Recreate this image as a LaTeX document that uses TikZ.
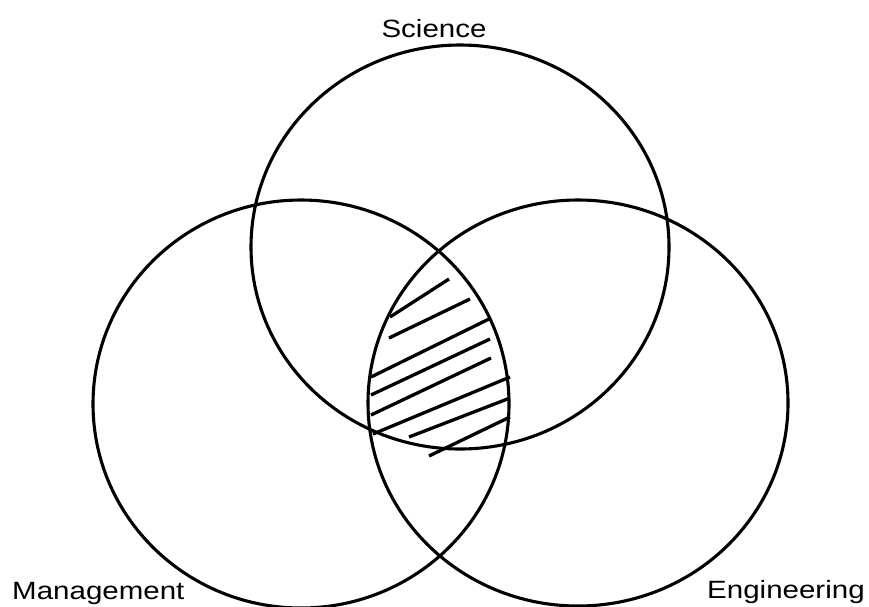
\documentclass[tikz,border=0pt]{standalone}
\usepackage{fontspec}
\setmainfont{Liberation Sans}
\begin{document}
\begin{tikzpicture}[x=1pt,y=-1pt,
  ring/.style={draw=black,line width=3.1pt},
  hatch/.style={draw=black,line width=3.3pt},
  lbl/.style={inner sep=0pt,xscale=1.18,font=\fontsize{25}{25}\selectfont}]
\useasboundingbox (0,0) rectangle (869,606);
\draw[ring] (460,247) ellipse [x radius=209pt, y radius=202pt];
\draw[ring] (301,404) ellipse [x radius=208pt, y radius=204pt];
\draw[ring] (578,403) ellipse [x radius=210pt, y radius=203pt];
\draw[hatch] (390,317) -- (449,279);
\draw[hatch] (389,338) -- (470,299);
\draw[hatch] (371,377) -- (489,319);
\draw[hatch] (371,395) -- (490,339);
\draw[hatch] (371,415) -- (491,358);
\draw[hatch] (373,434) -- (510,377);
\draw[hatch] (409,437) -- (510,398);
\draw[hatch] (429,456) -- (510,417);
\node[lbl,anchor=base] (sci) at (434,37) {Science};
\node[lbl,anchor=base west] (man) at (12,599) {Management};
\node[lbl,anchor=base west] (eng) at (707,598) {Engineering};
\end{tikzpicture}
\end{document}
